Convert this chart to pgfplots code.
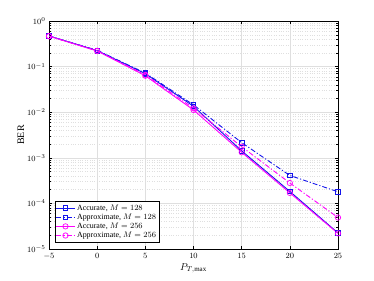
\documentclass[border=0pt]{standalone}
\usepackage{fontspec}
\setmainfont{Liberation Serif}
\usepackage{pgfplots}
\pgfplotsset{compat=1.18}
\definecolor{myblue}{RGB}{20,20,235}
\definecolor{mymag}{RGB}{255,0,255}
\tikzset{mdd/.style={dash pattern=on 5pt off 2pt on 1.2pt off 2pt}}
\begin{document}
\begin{tikzpicture}
\useasboundingbox (-49bp,-32bp) rectangle (325bp,249bp);
\begin{axis}[
  scale only axis, width=289bp, height=228bp,
  xmin=-5, xmax=25, ymin=1e-5, ymax=1,
  ymode=log,
  xtick={-5,0,5,10,15,20,25},
  ytick={1e-5,1e-4,1e-3,1e-2,1e-1,1},
  tick align=inside,
  tick style={black, line width=0.4pt},
  major tick length=3pt, minor tick length=1.6pt,
  grid=major,
  yminorgrids=true,
  major grid style={gray!25, line width=0.4pt},
  minor grid style={gray!25, dotted, line width=0.4pt},
  axis line style={black, line width=0.5pt},
  tick label style={font=\fontsize{8.5}{9}\selectfont},
  xticklabel style={yshift=-1pt},
  xlabel={$P_{T,\max}$},
  ylabel={BER},
  label style={font=\fontsize{10}{11}\selectfont},
  xlabel style={yshift=3pt},
  ylabel style={yshift=-4pt},
  legend style={at={(0.02,0.03)}, anchor=south west, font=\fontsize{8}{9}\selectfont,
    draw=black, line width=0.4pt, inner sep=1pt, row sep=-1.8pt, cells={anchor=west}},
  legend image code/.code={%
    \draw[mark repeat=2, mark phase=2] plot coordinates {(0cm,0cm) (0.32cm,0cm) (0.64cm,0cm)};},
  legend cell align=left,
]
\addplot[myblue, line width=0.9pt, mark=square, mark size=2.3pt, mark options={solid, line width=0.7pt}]
 coordinates {(-5,0.47) (0,0.224) (5,0.070) (10,0.0135) (15,1.42e-3) (20,1.83e-4) (25,2.25e-5)};
\addlegendentry{Accurate, $M=128$}
\addplot[myblue, line width=0.9pt, mdd, mark=square, mark size=2.3pt, mark options={solid, line width=0.7pt}]
 coordinates {(-5,0.47) (0,0.228) (5,0.072) (10,0.0145) (15,2.15e-3) (20,4.1e-4) (25,1.8e-4)};
\addlegendentry{Approximate, $M=128$}
\addplot[mymag, line width=0.9pt, mark=o, mark size=2.7pt, mark options={solid, line width=0.7pt}]
 coordinates {(-5,0.465) (0,0.22) (5,0.063) (10,0.0112) (15,1.32e-3) (20,1.7e-4) (25,2.2e-5)};
\addlegendentry{Accurate, $M=256$}
\addplot[mymag, line width=0.9pt, mdd, mark=o, mark size=2.7pt, mark options={solid, line width=0.7pt}]
 coordinates {(-5,0.465) (0,0.222) (5,0.066) (10,0.0122) (15,1.75e-3) (20,2.8e-4) (25,4.9e-5)};
\addlegendentry{Approximate, $M=256$}
\end{axis}
\end{tikzpicture}
\end{document}
